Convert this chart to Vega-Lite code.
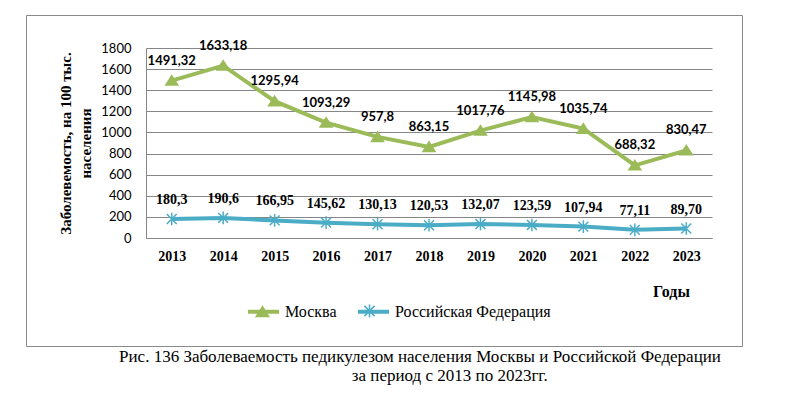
{
  "$schema": "https://vega.github.io/schema/vega-lite/v6.json",
  "width": 716,
  "height": 331,
  "autosize": {"type": "none"},
  "padding": {"left": 26, "top": 15, "right": 58, "bottom": 53},
  "background": "white",
  "config": {
    "view": {"stroke": "#8a8a8a", "strokeWidth": 1}
  },
  "title": {
    "text": ["Рис. 136 Заболеваемость педикулезом населения Москвы и Российской Федерации", "\u200b\u00a0\u00a0\u00a0\u00a0\u00a0\u00a0\u00a0\u00a0\u00a0\u00a0\u00a0\u00a0\u00a0\u00a0за период с 2013 по 2023гг."],
    "orient": "bottom",
    "anchor": "middle",
    "frame": "group",
    "font": "Liberation Serif, Times New Roman, serif",
    "fontSize": 17,
    "fontWeight": 400,
    "color": "#000000",
    "lineHeight": 19,
    "offset": 3,
    "dx": 36
  },
  "data": {
    "values": [
      {"year": "2013", "series": "Москва", "value": 1491.32, "label": "1491,32"},
      {"year": "2014", "series": "Москва", "value": 1633.18, "label": "1633,18"},
      {"year": "2015", "series": "Москва", "value": 1295.94, "label": "1295,94"},
      {"year": "2016", "series": "Москва", "value": 1093.29, "label": "1093,29"},
      {"year": "2017", "series": "Москва", "value": 957.8, "label": "957,8"},
      {"year": "2018", "series": "Москва", "value": 863.15, "label": "863,15"},
      {"year": "2019", "series": "Москва", "value": 1017.76, "label": "1017,76"},
      {"year": "2020", "series": "Москва", "value": 1145.98, "label": "1145,98"},
      {"year": "2021", "series": "Москва", "value": 1035.74, "label": "1035,74"},
      {"year": "2022", "series": "Москва", "value": 688.32, "label": "688,32"},
      {"year": "2023", "series": "Москва", "value": 830.47, "label": "830,47"},
      {"year": "2013", "series": "Российская Федерация", "value": 180.3, "label": "180,3"},
      {"year": "2014", "series": "Российская Федерация", "value": 190.6, "label": "190,6"},
      {"year": "2015", "series": "Российская Федерация", "value": 166.95, "label": "166,95"},
      {"year": "2016", "series": "Российская Федерация", "value": 145.62, "label": "145,62"},
      {"year": "2017", "series": "Российская Федерация", "value": 130.13, "label": "130,13"},
      {"year": "2018", "series": "Российская Федерация", "value": 120.53, "label": "120,53"},
      {"year": "2019", "series": "Российская Федерация", "value": 132.07, "label": "132,07"},
      {"year": "2020", "series": "Российская Федерация", "value": 123.59, "label": "123,59"},
      {"year": "2021", "series": "Российская Федерация", "value": 107.94, "label": "107,94"},
      {"year": "2022", "series": "Российская Федерация", "value": 77.11, "label": "77,11"},
      {"year": "2023", "series": "Российская Федерация", "value": 89.70, "label": "89,70"}
    ]
  },
  "encoding": {
    "x": {
      "field": "year",
      "type": "ordinal",
      "scale": {"type": "point", "range": [120, 686], "padding": 0.5},
      "axis": {
        "title": "Годы",
        "labelAngle": 0,
        "labelFont": "Liberation Serif",
        "labelFontWeight": "bold",
        "labelFontSize": 14,
        "labelColor": "#000000",
        "labelPadding": 11,
        "ticks": false,
        "grid": false,
        "domainColor": "#868686",
        "domainWidth": 1,
        "offset": -108,
        "titleFont": "Liberation Serif",
        "titleFontWeight": "bold",
        "titleFontSize": 16,
        "titleColor": "#000000",
        "titleX": 645,
        "titleY": 58,
        "titleAlign": "center",
        "titleBaseline": "alphabetic"
      }
    },
    "y": {
      "field": "value",
      "type": "quantitative",
      "scale": {"domain": [0, 1800], "range": [223, 33], "nice": false, "zero": true},
      "axis": {
        "title": ["Заболевемость, на 100 тыс.", "населения"],
        "values": [0, 200, 400, 600, 800, 1000, 1200, 1400, 1600, 1800],
        "format": "d",
        "labelFont": "Lato",
        "labelFontSize": 13,
        "labelColor": "#000000",
        "labelPadding": 15,
        "ticks": false,
        "grid": true,
        "gridColor": "#868686",
        "gridWidth": 1,
        "domainColor": "#868686",
        "domainWidth": 1,
        "offset": -120,
        "titleFont": "Liberation Serif",
        "titleFontWeight": "bold",
        "titleFontSize": 15,
        "titleColor": "#000000",
        "titleAngle": 270,
        "titleX": -76,
        "titleY": 128,
        "titleAlign": "center",
        "titleBaseline": "alphabetic",
        "titleLineHeight": 20
      }
    }
  },
  "layer": [
    {
      "mark": {"type": "line", "strokeWidth": 4},
      "encoding": {
        "color": {
          "field": "series",
          "type": "nominal",
          "scale": {"domain": ["Москва", "Российская Федерация"], "range": ["#9BBB59", "#4BACC6"]},
          "legend": {
            "title": null,
            "orient": "none",
            "legendX": 220,
            "legendY": 279,
            "direction": "horizontal",
            "symbolType": "stroke",
            "symbolSize": 961,
            "symbolStrokeWidth": 4,
            "labelFont": "Liberation Serif, Times New Roman, serif",
            "labelFontWeight": 400,
            "labelFontSize": 16,
            "labelColor": "#000000",
            "labelOffset": 4,
            "columnPadding": 13,
            "padding": 0,
            "labelLimit": 300,
            "symbolOpacity": 1,
            "zindex": 0
          }
        }
      }
    },
    {
      "mark": {"type": "point", "filled": true, "opacity": 1, "strokeWidth": 1.5, "size": 900},
      "encoding": {
        "fill": {"field": "series", "type": "nominal", "scale": {"domain": ["Российская Федерация", "Москва"], "range": ["#4BACC6", "#9BBB59"]}},
        "stroke": {"field": "series", "type": "nominal", "scale": {"domain": ["Российская Федерация", "Москва"], "range": ["#4BACC6", "#9BBB59"]}},
        "shape": {
          "field": "series",
          "type": "nominal",
          "scale": {"domain": ["Российская Федерация", "Москва"], "range": ["M-0.33,-0.33L0.33,0.33M0.33,-0.33L-0.33,0.33M0,-0.42L0,0.42", "M-0.4,0.3L0,-0.33L0.4,0.3Z"]},
          "legend": {
            "title": null,
            "values": ["Москва", "Российская Федерация"],
            "labelExpr": "''",
            "orient": "none",
            "legendX": 220,
            "legendY": 279,
            "direction": "horizontal",
            "symbolSize": 961,
            "symbolStrokeWidth": 1.5,
            "labelFontSize": 16,
            "labelOffset": 4,
            "columnPadding": 70,
            "padding": 0,
            "symbolOpacity": 1,
            "zindex": 1
          }
        }
      }
    },
    {
      "transform": [{"filter": "datum.series === 'Москва'"}],
      "mark": {"type": "text", "font": "Lato", "fontWeight": "bold", "fontSize": 13, "dy": -20, "color": "#000000"},
      "encoding": {"text": {"field": "label"}}
    },
    {
      "transform": [{"filter": "datum.series === 'Российская Федерация'"}],
      "mark": {"type": "text", "font": "Liberation Serif", "fontWeight": "bold", "fontSize": 14, "dy": -19, "color": "#000000"},
      "encoding": {"text": {"field": "label"}}
    }
  ]
}
